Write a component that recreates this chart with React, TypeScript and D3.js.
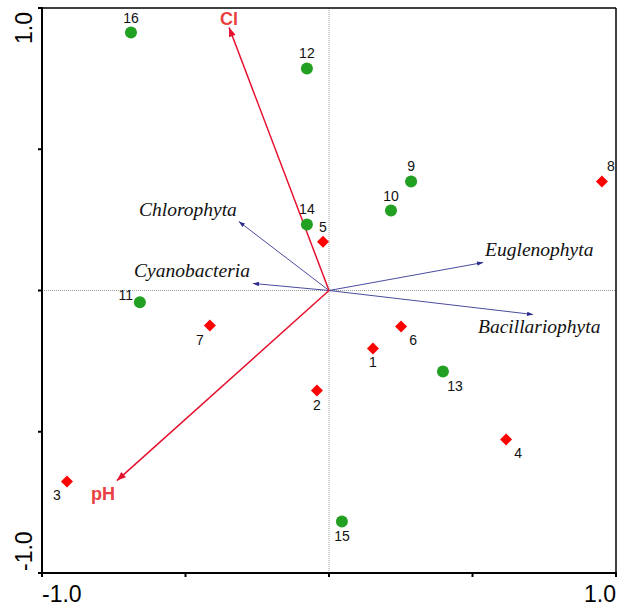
import * as d3 from "d3";

// site scores (sample plots)
const siteIds = ["1", "2", "3", "4", "5", "6", "7", "8", "9", "10", "11", "12", "13", "14", "15", "16"];
const siteX = [0.153, -0.042, -0.913, 0.617, -0.021, 0.251, -0.415, 0.951, 0.286, 0.216, -0.659, -0.077, 0.397, -0.077, 0.045, -0.69];
const siteY = [-0.205, -0.354, -0.676, -0.527, 0.173, -0.127, -0.124, 0.386, 0.386, 0.283, -0.042, 0.786, -0.287, 0.234, -0.818, 0.913];
const siteGroup = ["d", "d", "d", "d", "d", "d", "d", "d", "c", "c", "c", "c", "c", "c", "c", "c"];
// label placement: a=above, b=below, bl=below-left, br=below-right, ar=above-right, al=above-left
const siteLabelPos = ["b", "b", "bl", "br", "a", "br", "bl", "ar", "a", "a", "al", "a", "br", "a", "b", "a"];

// environmental variables
const envNames = ["Cl", "pH"];
const envX = [-0.348, -0.739];
const envY = [0.931, -0.673];

// species (phyla)
const specNames = ["Chlorophyta", "Cyanobacteria", "Euglenophyta", "Bacillariophyta"];
const specX = [-0.314, -0.265, 0.537, 0.711];
const specY = [0.244, 0.025, 0.099, -0.085];

const axisTicks = [-1, -0.5, 0, 0.5, 1];

const W = 617;
const H = 608;
const left = 42, right = 616, top = 8, bottom = 573;

const x = d3.scaleLinear().domain([-1, 1]).range([left, right]);
const y = d3.scaleLinear().domain([-1, 1]).range([bottom, top]);

const red = "#e5102e";
const navy = "#2b2b8c";

function arrowHead(x1: number, y1: number, x2: number, y2: number, len: number, half: number) {
  const a = Math.atan2(y2 - y1, x2 - x1);
  const bx = x2 - len * Math.cos(a), by = y2 - len * Math.sin(a);
  const px = -Math.sin(a) * half, py = Math.cos(a) * half;
  return `M${x2},${y2}L${bx + px},${by + py}L${bx - px},${by - py}Z`;
}

function labelOffset(pos: string) {
  switch (pos) {
    case "a": return { dx: 0, dy: -10, anchor: "middle" };
    case "b": return { dx: 0, dy: 19, anchor: "middle" };
    case "bl": return { dx: -10, dy: 19, anchor: "middle" };
    case "br": return { dx: 12, dy: 19, anchor: "middle" };
    case "ar": return { dx: 9, dy: -10, anchor: "middle" };
    case "al": return { dx: -14, dy: -2, anchor: "middle" };
  }
  return { dx: 0, dy: 0, anchor: "middle" };
}

// label positions for species relative to arrow tip
const specLabelDx = [-2, -3, 2, -55];
const specLabelDy = [-6, -6, -7, 18];
const specAnchor = ["end", "end", "start", "start"];

export default function App() {
  const x0 = x(0), y0 = y(0);
  return (
    <svg width={W} height={H} style={{ position: "absolute", left: 0, top: 0, background: "#fff" }}
      fontFamily="'Liberation Sans', Arial, sans-serif">
      {/* zero lines */}
      <line x1={x0} x2={x0} y1={top} y2={bottom} stroke="#999" strokeWidth={1} strokeDasharray="1,1" />
      <line x1={left} x2={right} y1={y0} y2={y0} stroke="#999" strokeWidth={1} strokeDasharray="1,1" />

      {/* frame */}
      <line x1={left} x2={right} y1={top} y2={top} stroke="#000" strokeWidth={1.5} />
      <line x1={right} x2={right} y1={top} y2={bottom} stroke="#000" strokeWidth={1.5} />
      <line x1={left} x2={left} y1={top - 1} y2={bottom + 1} stroke="#000" strokeWidth={2} />
      <line x1={left - 1} x2={right} y1={bottom} y2={bottom} stroke="#000" strokeWidth={2} />

      {axisTicks.map((t) => (
        <g key={"t" + t}>
          <line x1={x(t)} x2={x(t)} y1={bottom - 1} y2={bottom + 4} stroke="#000" strokeWidth={2} />
          <line x1={left - 4} x2={left + 1} y1={y(t)} y2={y(t)} stroke="#000" strokeWidth={2} />
        </g>
      ))}

      <text x={left} y={602} fontSize={23} textAnchor="start">-1.0</text>
      <text x={right} y={602} fontSize={23} textAnchor="end">1.0</text>
      <text transform={`translate(32,${top + 4}) rotate(-90)`} fontSize={23} textAnchor="end">1.0</text>
      <text transform={`translate(32,${bottom - 2}) rotate(-90)`} fontSize={23} textAnchor="start">-1.0</text>

      {/* species arrows */}
      {specNames.map((n, i) => {
        const tx = x(specX[i]), ty = y(specY[i]);
        return (
          <g key={n}>
            <line x1={x0} y1={y0} x2={tx} y2={ty} stroke={navy} strokeWidth={1} strokeOpacity={0.85} />
            <path d={arrowHead(x0, y0, tx, ty, 6, 2.2)} fill={navy} />
            <text x={tx + specLabelDx[i]} y={ty + specLabelDy[i]} textAnchor={specAnchor[i]}
              fontFamily="'Liberation Serif', 'Times New Roman', serif" fontStyle="italic" fontSize={19.5} fill="#111">{n}</text>
          </g>
        );
      })}

      {/* environmental arrows */}
      {envNames.map((n, i) => {
        const tx = x(envX[i]), ty = y(envY[i]);
        return (
          <g key={n}>
            <line x1={x0} y1={y0} x2={tx} y2={ty} stroke={red} strokeWidth={1.5} />
            <path d={arrowHead(x0, y0, tx, ty, 9, 3.5)} fill={red} />
          </g>
        );
      })}
      <text x={x(envX[0])} y={25} textAnchor="middle" fontSize={18} fontWeight="bold" fill="#e84040">Cl</text>
      <text x={x(envX[1]) - 14} y={500} textAnchor="middle" fontSize={18} fontWeight="bold" fill="#e84040">pH</text>

      {/* sites */}
      {siteIds.map((id, i) => {
        const cx = x(siteX[i]), cy = y(siteY[i]);
        const o = labelOffset(siteLabelPos[i]);
        return (
          <g key={id}>
            {siteGroup[i] === "c" ? (
              <circle cx={cx} cy={cy} r={6} fill="#22a022" />
            ) : (
              <path d={`M${cx},${cy - 6}L${cx + 6},${cy}L${cx},${cy + 6}L${cx - 6},${cy}Z`} fill="#ff0000" />
            )}
            <text x={cx + o.dx} y={cy + o.dy} textAnchor={o.anchor} fontSize={14} fill="#111">{id}</text>
          </g>
        );
      })}
    </svg>
  );
}
